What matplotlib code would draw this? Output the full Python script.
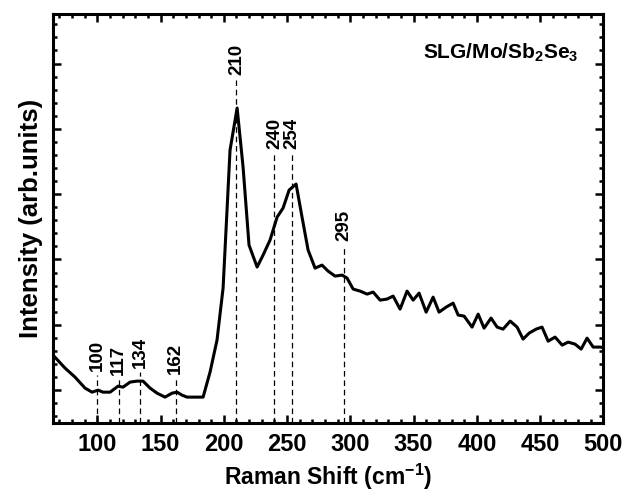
import matplotlib.pyplot as plt
from matplotlib.ticker import MultipleLocator, NullFormatter

plt.rcParams['font.family'] = 'Liberation Sans'
plt.rcParams['font.weight'] = 'bold'
plt.rcParams['mathtext.fontset'] = 'custom'
plt.rcParams['mathtext.rm'] = 'Liberation Sans:bold'
plt.rcParams['mathtext.bf'] = 'Liberation Sans:bold'
plt.rcParams['mathtext.it'] = 'Liberation Sans:bold'

# Espectro Raman (unidades arbitrarias)
raman_shift = [65, 74.5, 82.4, 90.3, 95.8, 100.6, 104.5, 110.1, 116.4, 120.3,
               125.9, 131.4, 136.1, 141.7, 147.2, 153.5, 159.1, 163.0, 167.0, 170.9,
               178.8, 183.6, 189.1, 194.6, 199.4, 204.9, 210.5, 215.2, 219.9, 226.3,
               231.0, 236.5, 242.1, 246.8, 251.6, 257.1, 261.8, 266.6, 272.1, 277.6,
               282.4, 287.9, 293.5, 297.4, 302.2, 307.7, 313.2, 318.0, 323.5, 329.0,
               333.8, 339.3, 344.8, 349.6, 354.3, 359.9, 365.4, 370.1, 375.7, 381.2,
               385.2, 389.9, 396.2, 401.0, 405.7, 411.2, 416.0, 420.7, 426.3, 431.8,
               436.5, 441.3, 446.8, 451.5, 456.3, 461.8, 467.4, 472.1, 477.6, 482.4,
               487.1, 491.9, 497.4, 500]
intensity = [536, 337, 199, 31, -31, 0, -31, -31, 61, 46,
             123, 138, 138, 31, -46, -107, -46, -31, -77, -107,
             -107, -107, 276, 766, 1562, 3675, 4319, 3415, 2221, 1884,
             2067, 2297, 2649, 2787, 3063, 3155, 2649, 2144, 1868, 1914,
             1822, 1746, 1761, 1715, 1547, 1516, 1470, 1501, 1378, 1394,
             1440, 1240, 1516, 1378, 1485, 1194, 1424, 1194, 1271, 1332,
             1149, 1133, 965, 1164, 949, 1103, 965, 934, 1057, 965,
             781, 873, 934, 965, 750, 812, 689, 735, 704, 628,
             796, 659, 659, 650]

# Picos marcados y altura de la linea discontinua
peak_pos = [100, 117, 134, 162, 210, 240, 254, 295]
peak_top = [230, 168, 276, 184, 4747, 3629, 3629, 2220]

Y_MIN, Y_MAX = -505, 5758

fig = plt.figure(figsize=(6.24, 4.92), dpi=100)
ax = fig.add_axes([0.085, 0.140, 0.882, 0.8315])

ax.plot(raman_shift, intensity, color='black', linewidth=2.2)

for pos, top in zip(peak_pos, peak_top):
    ax.plot([pos, pos], [Y_MIN, top], color='black', linewidth=0.9,
            linestyle=(0, (4.5, 3)))
    ax.text(pos, top + 70, str(pos), rotation=90, ha='center', va='bottom',
            fontsize=13.5, fontweight='bold')

ax.text(0.813, 0.905, r'SLG/Mo/Sb$_{\mathbf{2}}$Se$_{\mathbf{3}}$', transform=ax.transAxes,
        ha='center', va='center', fontsize=15, fontweight='bold')

ax.set_xlim(65, 500)
ax.set_ylim(Y_MIN, Y_MAX)
ax.xaxis.set_major_locator(MultipleLocator(50))
ax.xaxis.set_minor_locator(MultipleLocator(10))
ax.yaxis.set_major_locator(MultipleLocator(1000))
ax.yaxis.set_minor_locator(MultipleLocator(200))
ax.yaxis.set_major_formatter(NullFormatter())

ax.tick_params(which='both', direction='in', top=True, right=True, width=1.8)
ax.tick_params(which='major', length=6, labelsize=17, pad=7)
ax.tick_params(which='minor', length=3)
for lbl in ax.get_xticklabels():
    lbl.set_fontweight('bold')
for s in ax.spines.values():
    s.set_linewidth(2.2)

ax.set_xlabel(r'Raman Shift (cm$^{\mathbf{-1}}$)', fontsize=16.5, fontweight='bold', labelpad=4)
ax.set_ylabel('Intensity (arb.units)', fontsize=18.5, fontweight='bold', labelpad=0)

plt.savefig('out.png', dpi=100)
